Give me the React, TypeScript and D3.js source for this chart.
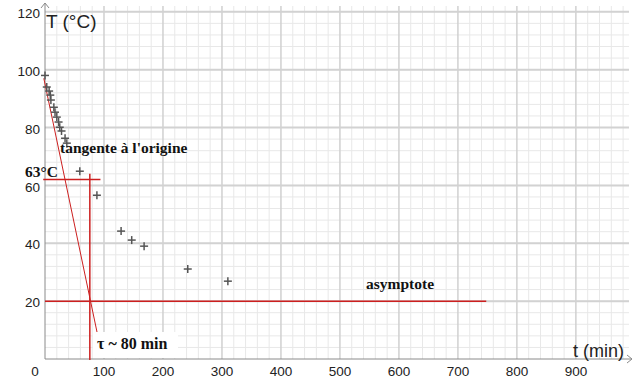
import { scaleLinear, range } from "d3";

const times = [0, 3, 7, 9, 10, 15, 17, 20, 23, 25, 28, 34, 37, 59, 88, 129, 147, 168, 242, 310];
const temps = [98, 94, 92.6, 91.2, 89.5, 87, 85.3, 83.6, 81.9, 80.1, 78.8, 76.3, 74.6, 64.9, 56.6, 44.2, 41.1, 39, 31.1, 26.9];

const xTicks = [100, 200, 300, 400, 500, 600, 700, 800, 900];
const yTicks = [20, 40, 60, 80, 100, 120];

// construction lines (in data units)
const tangent = [[-2, 97], [89, 8.5]];
const tau = 76;
const t63 = 62;
const asymptoteT = 20;
const asymptoteEnd = 748;

const W = 635;
const H = 392;

export default function App() {
  const x = scaleLinear().domain([0, 990]).range([45, 629]);
  const y = scaleLinear().domain([0, 122]).range([359, 6]);

  const minorX = range(20, 990, 20);
  const minorY = range(4, 122, 4);
  const red = "#cc1f1f";
  const sans = "'Liberation Sans', Arial, sans-serif";
  const serif = "'Liberation Serif', 'Times New Roman', serif";

  return (
    <svg
      width={W}
      height={H}
      style={{ position: "absolute", left: 0, top: 0, background: "#fff" }}
    >
      {/* minor grid */}
      <g stroke="#e8e8e8" strokeWidth={1}>
        {minorX.map((t) => (
          <line key={"mx" + t} x1={x(t)} x2={x(t)} y1={y(0)} y2={y(122)} />
        ))}
        {minorY.map((v) => (
          <line key={"my" + v} x1={x(0)} x2={x(990)} y1={y(v)} y2={y(v)} />
        ))}
      </g>

      {/* major grid */}
      <g>
        {xTicks.map((t) => (
          <line key={"gx" + t} x1={x(t)} x2={x(t)} y1={y(0)} y2={y(122)} stroke="#c4c4c4" />
        ))}
        {yTicks.map((v) => (
          <line key={"gy" + v} x1={x(0)} x2={x(990)} y1={y(v)} y2={y(v)} stroke="#d2d2d2" strokeWidth={2} />
        ))}
      </g>

      {/* axes */}
      <g stroke="#8a8a8a" strokeWidth={1} fill="none">
        <line x1={x(0)} x2={x(0)} y1={y(0)} y2={3} />
        <polyline points={`${x(0) - 4},${8} ${x(0)},${3} ${x(0) + 4},${8}`} />
        <line x1={x(0)} x2={632} y1={y(0)} y2={y(0)} />
        <polyline points={`${627},${y(0) - 4} ${632},${y(0)} ${627},${y(0) + 4}`} />
      </g>

      {/* tick labels */}
      <g fontFamily={sans} fontSize={13.5} fill="#222">
        {yTicks.map((v) => (
          <text key={"ly" + v} x={40} y={y(v) + 1.5} textAnchor="end" dy="0.35em">
            {v}
          </text>
        ))}
        {xTicks.map((t) => (
          <text key={"lx" + t} x={x(t)} y={375.5} textAnchor="middle">
            {t}
          </text>
        ))}
        <text x={35} y={375.5} textAnchor="middle">0</text>
      </g>

      {/* axis titles */}
      <text x={46} y={28} fontFamily={sans} fontSize={19} fill="#222">T (°C)</text>
      <text x={573} y={357} fontFamily={sans} fontSize={18} fill="#222">t (min)</text>

      {/* construction lines */}
      <line
        x1={x(tangent[0][0])}
        y1={y(tangent[0][1])}
        x2={x(tangent[1][0])}
        y2={y(tangent[1][1])}
        stroke={red}
        strokeWidth={1}
      />
      <line x1={x(-3)} x2={x(94)} y1={y(t63)} y2={y(t63)} stroke={red} strokeWidth={1.5} />
      <line x1={x(tau)} x2={x(tau)} y1={y(64)} y2={y(0) + 1} stroke={red} strokeWidth={1.5} />
      <line
        x1={x(0)}
        x2={x(asymptoteEnd)}
        y1={y(asymptoteT)}
        y2={y(asymptoteT)}
        stroke={red}
        strokeWidth={1.5}
      />

      {/* data points */}
      <g stroke="#555" strokeWidth={1.5}>
        {times.map((t, i) => (
          <g key={"p" + i} transform={`translate(${x(t)},${y(temps[i])})`}>
            <line x1={-4} x2={4} y1={0} y2={0} />
            <line x1={0} x2={0} y1={-4} y2={4} />
          </g>
        ))}
      </g>

      {/* annotations */}
      <g fontFamily={serif} fontWeight="bold" fontSize={15.5} fill="#111">
        <text x={60} y={153}>tangente à l'origine</text>
        <text x={25} y={177}>63°C</text>
        <text x={366} y={289}>asymptote</text>
        <rect x={93} y={332} width={85} height={26} fill="#fff" />
        <text x={97} y={349} fontSize={16}>τ ~ 80 min</text>
      </g>
    </svg>
  );
}
